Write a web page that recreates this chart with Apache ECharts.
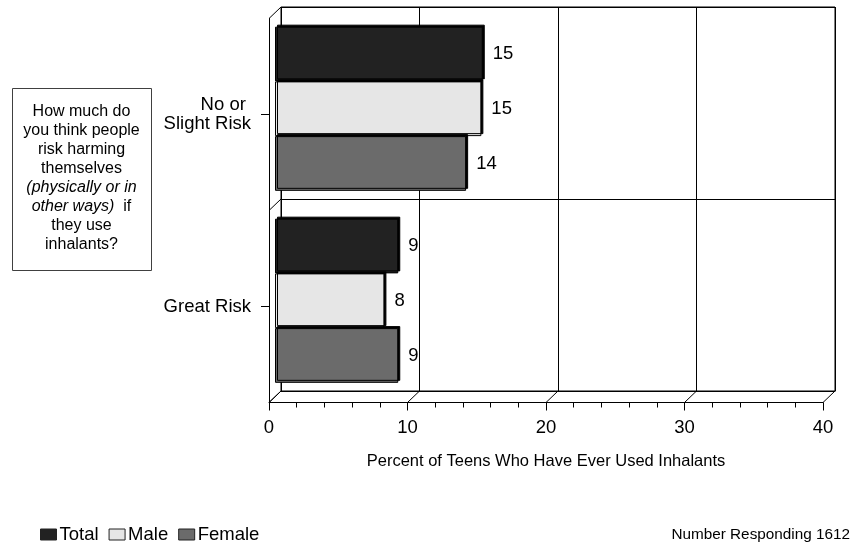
<!DOCTYPE html>
<html>
<head>
<meta charset="utf-8">
<script src="https://cdn.jsdelivr.net/npm/echarts@6/dist/echarts.min.js"></script>
<style>
html,body{margin:0;padding:0;background:#fff;}
#c{width:854px;height:544px;}
</style>
</head>
<body>
<div id="c"></div>
<script>
// ---- data ----
var categories = ['No or \nSlight Risk', 'Great Risk'];
var seriesNames = ['Total', 'Male', 'Female'];
var totalValues = [15.0, 8.9];
var maleValues = [14.9, 7.9];
var femaleValues = [13.8, 8.9];
var xTicks = [0, 10, 20, 30, 40];
var axisTitle = 'Percent of Teens Who Have Ever Used Inhalants';
var questionText = 'How much do\nyou think people\nrisk harming\nthemselves\n{i|(physically or in}\n{i|other ways)}  if\nthey use\ninhalants?';
var footnote = 'Number Responding 1612';

// ---- layout / style ----
var FONT = 'Arial, "Liberation Sans", sans-serif';
var front = {left: 269, top: 18.5, width: 554, height: 384};
var depth = {dx: 12, dy: -11.5};
var back = {left: front.left + depth.dx, top: front.top + depth.dy, width: front.width, height: front.height};
var mid = {left: front.left + depth.dx / 2, top: front.top + depth.dy / 2, width: front.width, height: front.height};
var colors = ['#222222', '#e6e6e6', '#6b6b6b'];

var chart = echarts.init(document.getElementById('c'), null, {renderer: 'canvas'});

function barSeries(name, data, color) {
  return {
    name: name, type: 'bar', xAxisIndex: 2, yAxisIndex: 2, data: data,
    barGap: '0%', barCategoryGap: '14.5%',
    itemStyle: {color: color, borderColor: '#000', borderWidth: 1,
      shadowColor: '#000', shadowBlur: 0, shadowOffsetX: 2, shadowOffsetY: -2},
    label: {show: true, position: 'right', distance: 10, color: '#000',
      fontFamily: FONT, fontSize: 18.5,
      formatter: function (p) { return Math.round(p.value); }},
    emphasis: {disabled: true},
    silent: true
  };
}

var option = {
  animation: false,
  backgroundColor: '#fff',
  grid: [
    {left: front.left, top: front.top, width: front.width, height: front.height},
    {left: back.left, top: back.top, width: back.width, height: back.height,
      show: true, borderColor: '#000', borderWidth: 1, backgroundColor: 'transparent'},
    {left: mid.left, top: mid.top, width: mid.width, height: mid.height}
  ],
  xAxis: [
    {gridIndex: 0, type: 'value', min: 0, max: 40, interval: 10,
      axisLine: {show: true, lineStyle: {color: '#000', width: 1}},
      axisTick: {show: true, length: 8, lineStyle: {color: '#000'}},
      minorTick: {show: true, splitNumber: 5, length: 5, lineStyle: {color: '#000'}},
      splitLine: {show: false},
      axisLabel: {color: '#000', fontFamily: FONT, fontSize: 18.5, margin: 16},
      name: axisTitle, nameLocation: 'middle', nameGap: 50,
      nameTextStyle: {color: '#000', fontFamily: FONT, fontSize: 16.5}},
    {gridIndex: 1, type: 'value', min: 0, max: 40, interval: 10,
      axisLine: {show: true, lineStyle: {color: '#000'}},
      axisTick: {show: false}, axisLabel: {show: false},
      splitLine: {show: true, lineStyle: {color: '#000', width: 1}}},
    {gridIndex: 2, type: 'value', min: 0, max: 40, show: false}
  ],
  yAxis: [
    {gridIndex: 0, type: 'category', data: categories, inverse: true,
      axisLine: {show: true, lineStyle: {color: '#000'}},
      axisTick: {show: true, alignWithLabel: true, length: 8, lineStyle: {color: '#000'}},
      axisLabel: {color: '#000', fontFamily: FONT, fontSize: 18.5, lineHeight: 19, margin: 18, align: 'right'},
      splitLine: {show: false}},
    {gridIndex: 1, type: 'category', data: categories, inverse: true,
      axisLine: {show: false}, axisTick: {show: false}, axisLabel: {show: false},
      splitLine: {show: true, lineStyle: {color: '#000', width: 1}}},
    {gridIndex: 2, type: 'category', data: categories, inverse: true, show: false}
  ],
  legend: {
    data: seriesNames.map(function (n) { return {name: n, icon: 'rect'}; }),
    left: 35, top: 520, orient: 'horizontal',
    itemWidth: 16, itemHeight: 11, itemGap: 10,
    textStyle: {color: '#000', fontFamily: FONT, fontSize: 18.5, padding: [0, 0, 0, -2]},
    itemStyle: {shadowBlur: 0, shadowOffsetX: 0, shadowOffsetY: 0, shadowColor: 'rgba(0,0,0,0)', borderColor: '#222', borderWidth: 1},
    selectedMode: false
  },
  series: [
    barSeries(seriesNames[0], totalValues, colors[0]),
    barSeries(seriesNames[1], maleValues, colors[1]),
    barSeries(seriesNames[2], femaleValues, colors[2])
  ]
};
chart.setOption(option);

// ---- 3D frame decoration (diagonals) + text boxes ----
var elements = [];
var frontBottom = front.top + front.height;
xTicks.forEach(function (v) {
  var x = chart.convertToPixel({xAxisIndex: 0}, v);
  elements.push({type: 'line', silent: true, z: 1,
    shape: {x1: x, y1: frontBottom, x2: x + depth.dx, y2: frontBottom + depth.dy},
    style: {stroke: '#000', lineWidth: 1}});
});
[0, 1, 2].forEach(function (k) {
  var y = front.top + k * front.height / 2;
  elements.push({type: 'line', silent: true, z: 1,
    shape: {x1: front.left, y1: y, x2: front.left + depth.dx, y2: y + depth.dy},
    style: {stroke: '#000', lineWidth: 1}});
});
elements.push({type: 'rect', silent: true, z: 1,
  shape: {x: 12.5, y: 88.5, width: 139, height: 182},
  style: {fill: '#fff', stroke: '#404040', lineWidth: 1}});
elements.push({type: 'text', silent: true, z: 2, x: 81.5, y: 178,
  style: {text: questionText, fill: '#000', font: '16px ' + FONT, align: 'center', verticalAlign: 'middle',
    lineHeight: 19.1,
    rich: {i: {fontStyle: 'italic', fontSize: 16, fontFamily: FONT, lineHeight: 19.1, fill: '#000'}}}});
elements.push({type: 'text', silent: true, z: 2, x: 850, y: 535,
  style: {text: footnote, fill: '#000', font: '15.3px ' + FONT, align: 'right', verticalAlign: 'middle'}});
chart.setOption({graphic: elements});
</script>
</body>
</html>
